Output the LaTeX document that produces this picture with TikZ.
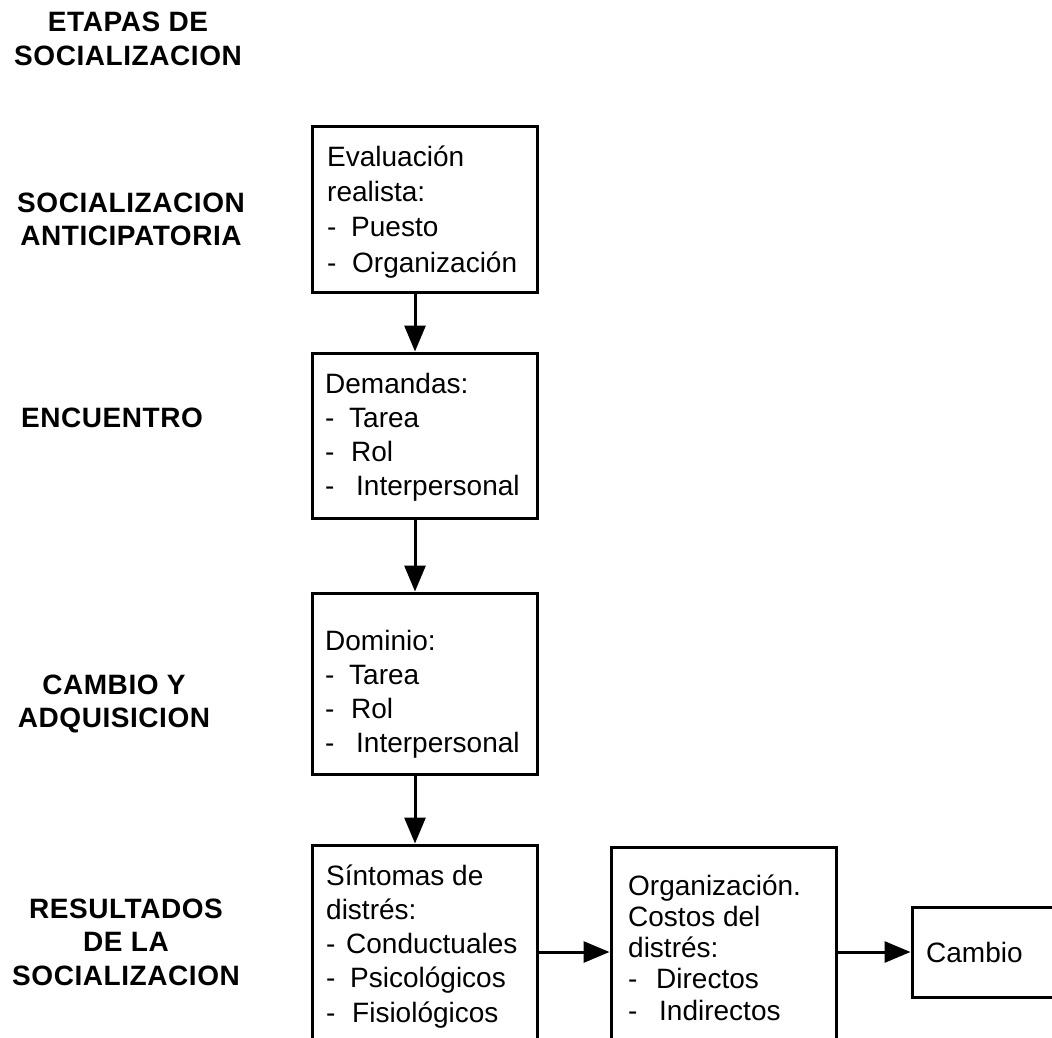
\documentclass[tikz,border=0pt]{standalone}
\usepackage{fontspec}
\setmainfont{Liberation Sans}
\newfontfamily\boxfont{Liberation Sans}
\newfontfamily\stagefont[LetterSpace=2]{Liberation Sans}
\usetikzlibrary{arrows.meta}

% multi-line blocks whose baseline is the first line's baseline
\newcommand\textlines[1]{\begin{tabular}[t]{@{}l@{}}#1\end{tabular}}
\newcommand\stagelines[1]{\begin{tabular}[t]{@{}c@{}}#1\end{tabular}}
% list item: dash, then the word starting #1 pt after the line start
\newcommand\itm[2]{\makebox[#1pt][l]{-}#2}

\tikzset{
  box/.style={draw, rectangle, line width=3pt, inner sep=0pt},
  txt/.style={inner sep=0pt, anchor=base west,
    font=\boxfont\fontsize{28}{34}\selectfont},
  stage/.style={inner sep=0pt, anchor=base,
    font=\stagefont\bfseries\fontsize{28}{33.5}\selectfont},
  arr/.style={line width=3pt, -{Triangle[length=26pt,width=21pt]}}
}

\begin{document}
\begin{tikzpicture}[x=1pt,y=-1pt]
\useasboundingbox (0,0) rectangle (1052,1038);
\clip (0,0) rectangle (1052,1038);

% stage names in the left column
\node[stage] (hdr) at (128,32) {\stagelines{ETAPAS DE\\SOCIALIZACION}};
\node[stage] (s1) at (131,212) {\stagelines{SOCIALIZACION\\ANTICIPATORIA}};
\node[stage] (s2) at (112,427) {ENCUENTRO};
\node[stage] (s3) at (114,694) {\stagelines{CAMBIO Y\\ADQUISICION}};
\node[stage] (s4) at (126,918) {\stagelines{RESULTADOS\\DE LA\\SOCIALIZACION}};

% boxes
\node[box, minimum width=225pt, minimum height=165pt] (b1) at (424.5,209.5) {};
\node[box, minimum width=225pt, minimum height=165pt] (b2) at (424.5,435.5) {};
\node[box, minimum width=225pt, minimum height=181pt] (b3) at (424.5,683.5) {};
\node[box, minimum width=225pt, minimum height=214pt] (b4) at (424.5,952) {};
\node[box, minimum width=225pt, minimum height=210pt] (b5) at (723.5,952) {};
\node[box, minimum width=168pt, minimum height=90pt] (b6) at (996,952) {};

% box contents
\node[txt, font=\boxfont\fontsize{28}{35}\selectfont] (t1) at (327,167)
  {\textlines{Evaluación\\realista:\\\itm{24}{Puesto}\\\itm{25}{Organización}}};
\node[txt] (t2) at (325,393)
  {\textlines{Demandas:\\\itm{24}{Tarea}\\\itm{26}{Rol}\\\itm{31}{Interpersonal}}};
\node[txt] (t3) at (325,650)
  {\textlines{Dominio:\\\itm{24}{Tarea}\\\itm{26}{Rol}\\\itm{31}{Interpersonal}}};
\node[txt, font=\boxfont\fontsize{28}{34.3}\selectfont] (t4) at (326,885)
  {\textlines{Síntomas de\\distrés:\\\itm{20}{Conductuales}\\\itm{24}{Psicológicos}\\\itm{26}{Fisiológicos}}};
\node[txt, font=\boxfont\fontsize{28}{31.3}\selectfont] (t5) at (628,895)
  {\textlines{Organización.\\Costos del\\distrés:\\\itm{28}{Directos}\\\itm{31}{Indirectos}}};
\node[txt] (t6) at (926,962) {Cambio};

% connectors
\draw[arr] ([xshift=-9.5pt]b1.south) -- ([xshift=-9.5pt]b2.north);
\draw[arr] ([xshift=-9.5pt]b2.south) -- ([xshift=-9.5pt]b3.north);
\draw[arr] ([xshift=-9.5pt]b3.south) -- ([xshift=-9.5pt]b4.north);
\draw[arr] (b4.east) -- (b5.west);
\draw[arr] (b5.east) -- (b6.west);
\end{tikzpicture}
\end{document}
